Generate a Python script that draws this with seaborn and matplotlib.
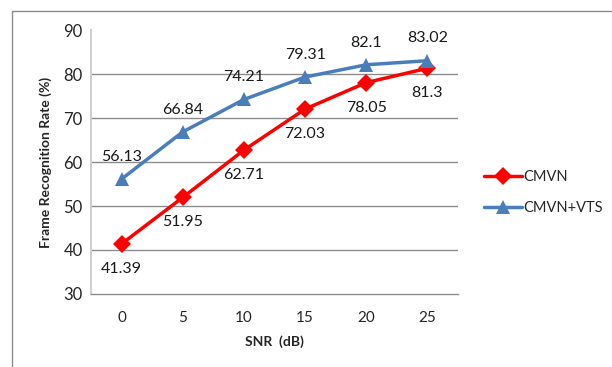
import matplotlib
matplotlib.use("Agg")
import matplotlib.pyplot as plt
from matplotlib.patches import Rectangle
import seaborn as sns
import pandas as pd

snr_labels = ["0", "5", "10", "15", "20", "25"]
cmvn = [41.39, 51.95, 62.71, 72.03, 78.05, 81.3]
cmvn_vts = [56.13, 66.84, 74.21, 79.31, 82.1, 83.02]
cmvn_text = ["41.39", "51.95", "62.71", "72.03", "78.05", "81.3"]
vts_text = ["56.13", "66.84", "74.21", "79.31", "82.1", "83.02"]
y_ticks = [30, 40, 50, 60, 70, 80, 90]

sns.set_theme(style="white")
plt.rcParams["font.family"] = ["Lato", "DejaVu Sans"]

pos = list(range(len(snr_labels)))
df = pd.DataFrame({
    "pos": pos * 2,
    "rate": cmvn + cmvn_vts,
    "series": ["CMVN"] * len(pos) + ["CMVN+VTS"] * len(pos),
})

fig = plt.figure(figsize=(6.12, 3.67), dpi=100)
fig.patches.append(Rectangle((12 / 612, -0.1), 1.0, 1 - 11 / 367 + 0.1,
                             transform=fig.transFigure, fill=False,
                             edgecolor="#8c8c8c", linewidth=1.0))
ax = fig.add_axes([91 / 612, 73 / 367, 367 / 612, 264 / 367])

palette = {"CMVN": "#ff0000", "CMVN+VTS": "#4a7ebb"}
markers = {"CMVN": "D", "CMVN+VTS": "^"}
sns.lineplot(data=df, x="pos", y="rate", hue="series", style="series",
             palette=palette, markers=markers, dashes=False, linewidth=2.5,
             markersize=9.5, markeredgewidth=0, ax=ax)

for x, v, t in zip(pos, cmvn, cmvn_text):
    ax.annotate(t, (x, v), xytext=(0, -18), textcoords="offset points",
                ha="center", va="center", fontsize=11.5, color="#1a1a1a")
for x, v, t in zip(pos, cmvn_vts, vts_text):
    ax.annotate(t, (x, v), xytext=(0, 16), textcoords="offset points",
                ha="center", va="center", fontsize=11.5, color="#1a1a1a")

ax.set_xlim(-0.5, len(pos) - 0.5)
ax.set_ylim(30, 90)
ax.set_xticks(pos)
ax.set_xticklabels(snr_labels, fontsize=11)
ax.set_yticks(y_ticks)
ax.set_yticklabels([str(t) for t in y_ticks], fontsize=12)
ax.tick_params(axis="x", length=0, pad=12)
ax.tick_params(axis="y", length=0, pad=6)
for t in y_ticks[1:-1]:
    ax.axhline(t, color="#8c8c8c", linewidth=1.0, zorder=0)

for s in ["top", "right"]:
    ax.spines[s].set_visible(False)
ax.spines["left"].set_color("#d0d0d0")
ax.spines["left"].set_linewidth(1.5)
ax.spines["bottom"].set_color("#8c8c8c")
ax.spines["bottom"].set_linewidth(1.0)

ax.set_xlabel("SNR  (dB)", fontsize=10, fontweight="bold", labelpad=8)
ax.set_ylabel("Frame Recognition Rate (%)", fontsize=10, fontweight="bold",
              labelpad=8)

handles, labels = ax.get_legend_handles_labels()
ax.legend(handles, labels, loc="center left", bbox_to_anchor=(1.035, 0.385),
          frameon=False, fontsize=10.5, handlelength=2.6, handletextpad=0.1,
          labelspacing=1.15)

fig.savefig("out.png", dpi=100)
